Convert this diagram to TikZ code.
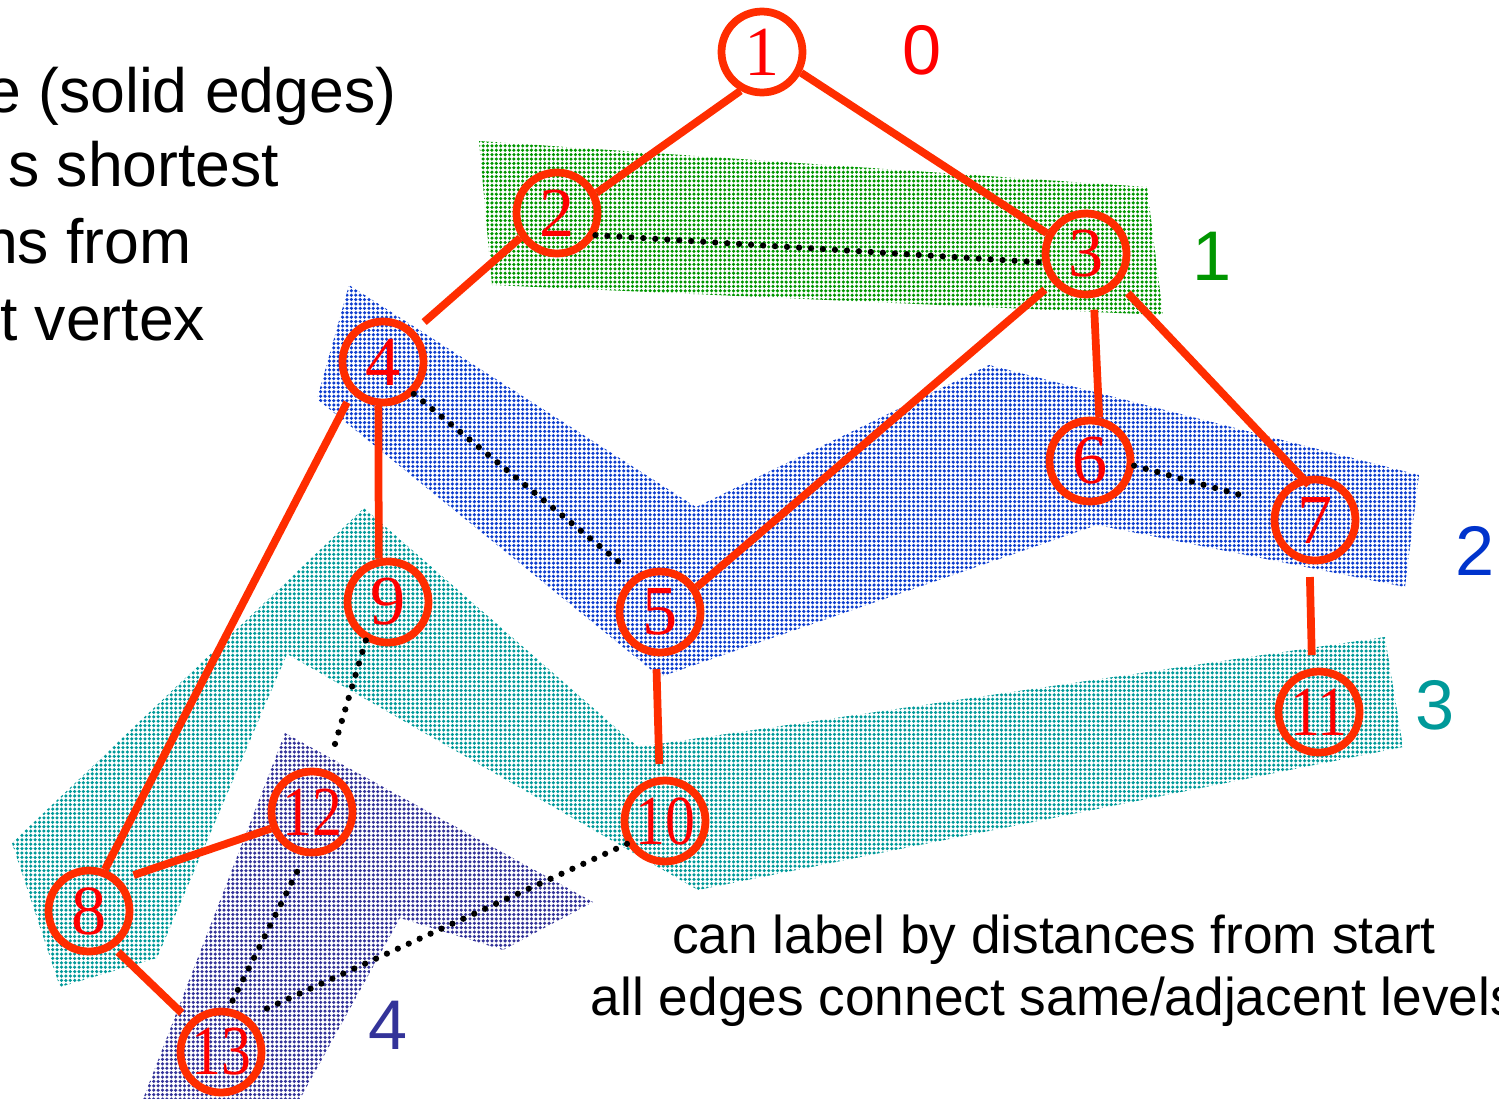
\documentclass[tikz,border=0pt]{standalone}
\usepackage{fontspec}
\setmainfont{Liberation Serif}
\newfontfamily\narrowserif[FakeStretch=0.85]{Liberation Serif}
\newfontfamily\helv{Liberation Sans}
\usetikzlibrary{patterns.meta}
\definecolor{treered}{RGB}{255,45,0}
\definecolor{numred}{RGB}{255,0,0}
\definecolor{lvlgreen}{RGB}{0,150,0}
\definecolor{lvlblue}{RGB}{0,51,204}
\definecolor{lvlteal}{RGB}{0,153,153}
\definecolor{lvlpurple}{RGB}{51,51,153}

\begin{document}
\begin{tikzpicture}[x=0.02cm,y=-0.02cm,
  vertex/.style={circle,draw=treered,line width=0.155cm,minimum size=1.62cm,inner sep=0pt,
    text=numred,font=\fontsize{40}{40}\selectfont},
  vertexw/.style={vertex,font=\narrowserif\fontsize{40}{40}\selectfont},
  tree/.style={every edge/.style={draw=treered,line width=0.155cm}},
  cross/.style={every edge/.style={draw=black,line width=0.125cm,line cap=round,
    dash pattern=on 0pt off 0.24cm}},
  band/.style={pattern={Dots[distance=2.5pt,radius=1pt]},pattern color=#1},
  level/.style={text=#1,font=\helv\fontsize{40}{40}\selectfont},
  note/.style={anchor=base west,font=\helv\fontsize{35.6}{40}\selectfont},
  caption/.style={anchor=base,font=\helv\fontsize{30.3}{36}\selectfont},
  gap/.style={shorten <=#1,shorten >=#1}]
  \useasboundingbox (0,0) rectangle (1499,1099);
  \clip (0,0) rectangle (1499,1099);

  \fill[band=lvlgreen] (479,141) -- (1147,187) -- (1163,315) -- (492,285) -- cycle;
  \fill[band=lvlblue!95] (349,285) -- (696,507) -- (989,365) -- (1419,475) -- (1405,587)
    -- (1097,525) -- (660,677) -- (317,399) -- cycle;
  \fill[band=lvlteal] (364,508) -- (638,747) -- (1385,637) -- (1403,747) -- (698,890)
    -- (287,654) -- (157,958) -- (60,987) -- (12,843) -- cycle;
  \fill[band=lvlpurple] (285,733) -- (593,902) -- (503,950) -- (400,918) -- (300,1099)
    -- (143,1099) -- cycle;

  \node[note] (t1) at (-20,112) {e (solid edges)};
  \node[note] (t2) at (2,186) {s shortest};
  \node[note] (t3) at (-23,263) {ns from};
  \node[note] (t4) at (-6,340) {t vertex};

  \node[vertex]  (n1)  at (762,52)   {1};
  \node[vertex]  (n2)  at (557,213)  {2};
  \node[vertex]  (n3)  at (1086,254) {3};
  \node[vertex]  (n4)  at (383,362)  {4};
  \node[vertex]  (n5)  at (660,612)  {5};
  \node[vertex]  (n6)  at (1090,461) {6};
  \node[vertex]  (n7)  at (1315,520) {7};
  \node[vertex]  (n8)  at (89,911)   {8};
  \node[vertex]  (n9)  at (388,602)  {9};
  \node[vertexw] (n10) at (665,821)  {10};
  \node[vertexw] (n11) at (1319,712) {11};
  \node[vertexw] (n12) at (312,812)  {12};
  \node[vertexw] (n13) at (221,1052) {13};

  \node[level=numred]    (l0) at (922,50)   {0};
  \node[level=lvlgreen]  (l1) at (1212,256) {1};
  \node[level=lvlblue]   (l2) at (1475,551) {2};
  \node[level=lvlteal]   (l3) at (1435,705) {3};
  \node[level=lvlpurple] (l4) at (388,1025) {4};

  \path[tree] (n1.241) edge (n2.27)
          (n1.-28) edge (n3.152)
          (n2.214) edge[shorten >=0.26cm] (n4.45)
          (n3.221) edge[shorten <=0.2cm] (n5.34)
          (n3.-80) edge[shorten <=0.24cm] (n6.78)
          (n3.-42) edge[shorten <=0.26cm,shorten >=-0.2cm] (n7.107)
          (n4.-96) edge (n9.102)
          (n4.225) edge[shorten <=0.2cm] (n8.69)
          (n5.-95) edge[gap=0.26cm] (n10.97)
          (n7.-97) edge[gap=0.26cm] (n11.99)
          (n8.45)  edge[shorten <=0.28cm] (n12.202)
          (n8.-56) edge[shorten <=0.12cm,shorten >=0.22cm] (n13.135);

  \path[cross] (n2.-30) edge (n3.191)
          (n4.-46) edge[shorten >=0.38cm] (n5.124)
          (n6.-6)  edge[shorten >=0.52cm] (n7.159)
          (n9.240) edge[shorten >=0.44cm] (n12.70)
          (n12.261) edge[shorten <=0.36cm] (n13.80)
          (n10.211) edge[shorten >=0.32cm] (n13.52);

  \node[caption] (c1) at (1054,953)  {can label by distances from start};
  \node[caption] (c2) at (1054,1015) {all edges connect same/adjacent levels};
\end{tikzpicture}
\end{document}
